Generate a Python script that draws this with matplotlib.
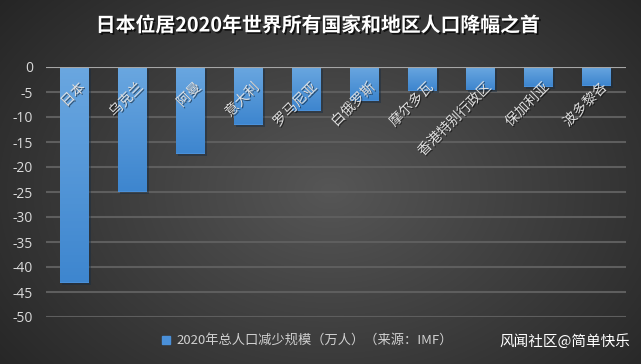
import numpy as np
import matplotlib
matplotlib.use("Agg")
from matplotlib import pyplot as plt, patheffects as pe
from matplotlib.colors import LinearSegmentedColormap

plt.rcParams['font.family'] = ['Noto Sans CJK SC', 'DejaVu Sans']

# data (万人)
regions = ["日本", "乌克兰", "阿曼", "意大利", "罗马尼亚", "白俄罗斯",
           "摩尔多瓦", "香港特别行政区", "保加利亚", "波多黎各"]
decline = [-43.1, -24.9, -17.3, -11.5, -8.7, -6.7, -4.7, -4.6, -3.9, -3.7]
yticks = list(range(0, -55, -5))

title = "日本位居2020年世界所有国家和地区人口降幅之首"
legend_text = "2020年总人口减少规模（万人）（来源：IMF）"
watermark = "风闻社区@简单快乐"

fig = plt.figure(figsize=(6.41, 3.64), dpi=100)

# dark radial background
bg = fig.add_axes([0, 0, 1, 1], zorder=-10)
yy, xx = np.mgrid[0:364, 0:641]
r = np.sqrt(((xx - 330) / 420.0) ** 2 + ((yy - 190) / 300.0) ** 2)
bg_cmap = LinearSegmentedColormap.from_list("bg", ["#565656", "#262626"])
bg.imshow(np.clip(r, 0, 1), cmap=bg_cmap, vmin=0, vmax=1, aspect="auto")
bg.axis("off")

ax = fig.add_axes([45.5 / 641, 1 - 317 / 364, 580 / 641, 250 / 364])
ax.set_facecolor("none")
x = np.arange(len(regions))
bars = ax.bar(x, decline, width=0.5, color="#4a90d9", zorder=3,
              path_effects=[pe.SimplePatchShadow(offset=(1.5, -1.5), alpha=0.45),
                            pe.Normal()])

# vertical blue gradient inside each bar
bar_cmap = LinearSegmentedColormap.from_list("bar", ["#6aa7e0", "#3e86cf"])
grad = np.linspace(0, 1, 64).reshape(-1, 1)
for b in bars:
    x0, w = b.get_x(), b.get_width()
    im = ax.imshow(grad, cmap=bar_cmap, aspect="auto", zorder=4,
                   extent=(x0, x0 + w, b.get_y() + b.get_height(), 0))
    im.set_clip_path(b)

ax.set_xlim(-0.5, len(regions) - 0.5)
ax.set_ylim(-50, 0)
ax.set_yticks(yticks)
ax.set_yticklabels([str(t) for t in yticks], color="#d9d9d9", fontsize=10,
                   family=['Open Sans', 'DejaVu Sans'])
ax.tick_params(axis="y", length=0, pad=9)
ax.set_xticks([])
for s in ax.spines.values():
    s.set_visible(False)
ax.grid(axis="y", color="#5e5e5e", linewidth=1.5, zorder=1)
ax.axhline(0, color="#a6a6a6", linewidth=1.5, zorder=5)

# category labels inside the plot, rotated
for i, name in enumerate(regions):
    ax.annotate(name, xy=(i, 0), xytext=(6, -13), textcoords="offset points",
                rotation=45, rotation_mode="anchor", ha="right", va="center",
                color="#e0e0e0", fontsize=10, zorder=6,
                path_effects=[pe.withSimplePatchShadow(offset=(0.8, -0.8),
                                                       shadow_rgbFace="black",
                                                       alpha=0.5)])

fig.text(318 / 641, 1 - 25 / 364, title, ha="center", va="center", color="white",
         fontsize=14.3, fontweight="bold",
         path_effects=[pe.withSimplePatchShadow(offset=(1.2, -1.2),
                                                shadow_rgbFace="black", alpha=0.7)])

# legend
fig.patches.append(plt.Rectangle((162 / 641, 1 - 344 / 364), 8 / 641, 8 / 364,
                                 transform=fig.transFigure, color="#4a90d9",
                                 figure=fig))
fig.text(176 / 641, 1 - 340 / 364, legend_text, ha="left", va="center",
         color="#d0d0d0", fontsize=9.5)
fig.text(630 / 641, 1 - 341 / 364, watermark, ha="right", va="center",
         color="white", fontsize=10.5)

fig.savefig("out.png", dpi=100)
